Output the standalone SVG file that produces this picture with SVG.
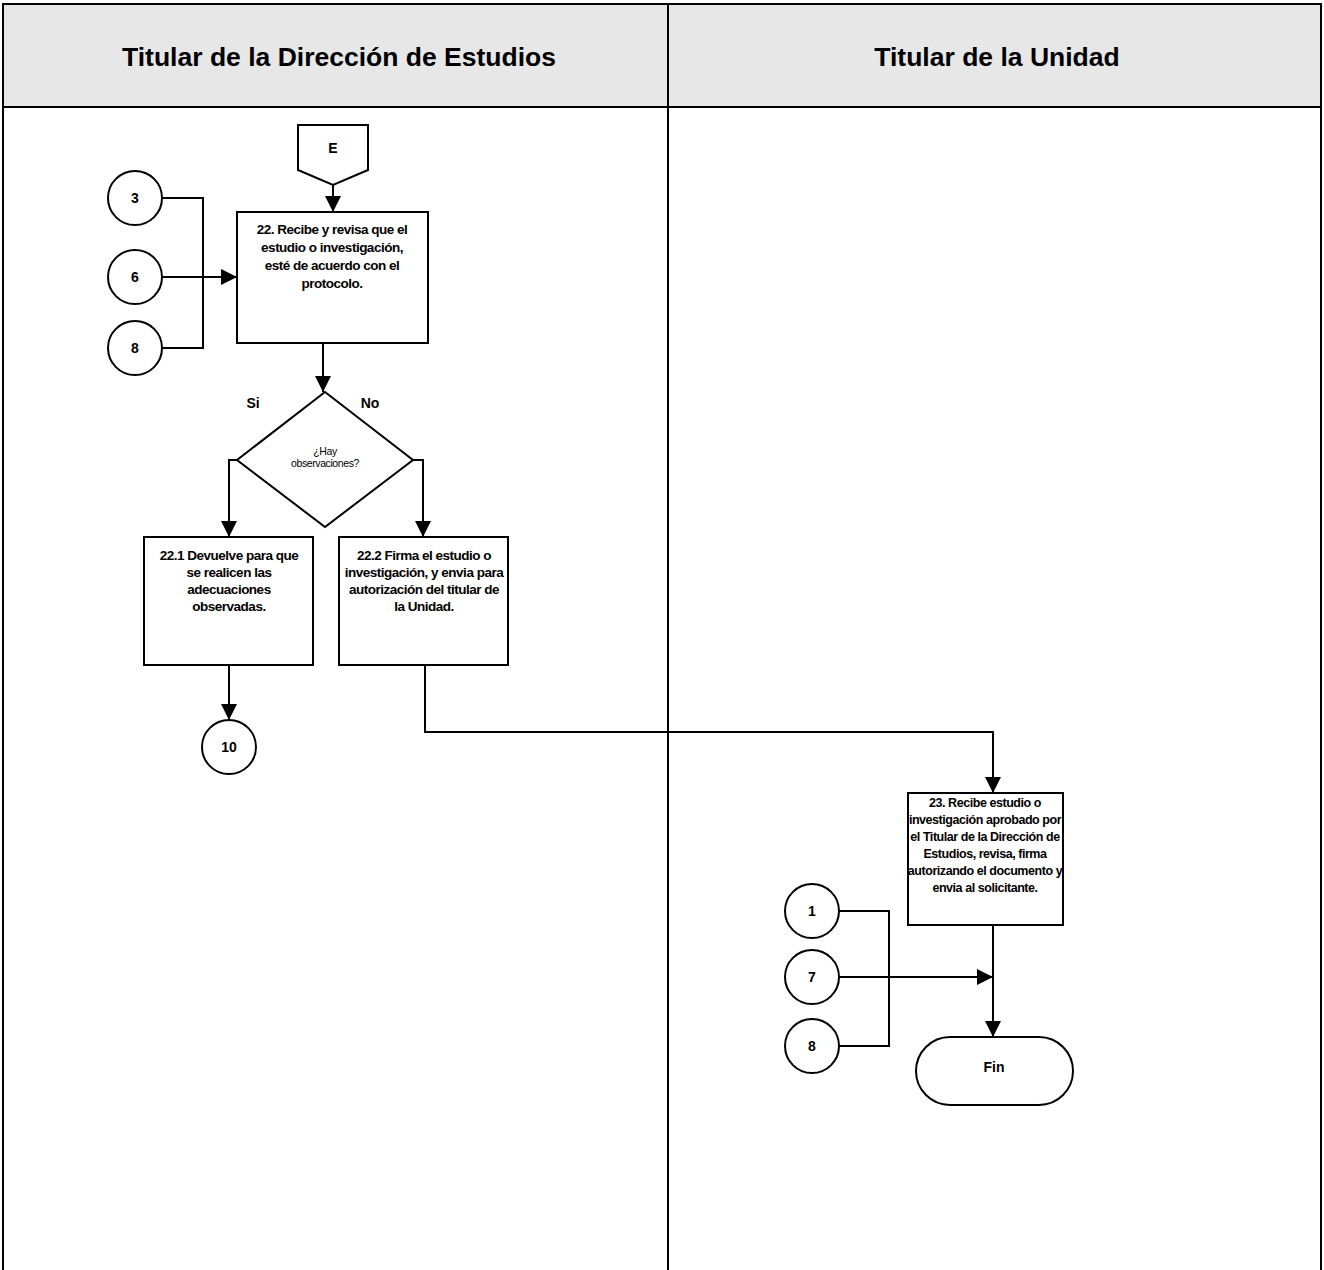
<svg xmlns="http://www.w3.org/2000/svg" width="1324" height="1270" viewBox="0 0 1324 1270">
<style>
.ln{fill:none;stroke:#000;stroke-width:2}
.sh{fill:#fff;stroke:#000;stroke-width:2}
.t{font-family:"Liberation Sans",Arial,sans-serif;font-weight:bold;font-size:13.5px;letter-spacing:-0.5px;text-anchor:middle;fill:#000}
.t2{font-family:"Liberation Sans",Arial,sans-serif;font-weight:bold;font-size:12.5px;letter-spacing:-0.45px;text-anchor:middle;fill:#000}
.n{font-family:"Liberation Sans",Arial,sans-serif;font-weight:bold;font-size:14px;text-anchor:middle;fill:#000}
.h{font-family:"Liberation Sans",Arial,sans-serif;font-weight:bold;font-size:26.5px;text-anchor:middle;fill:#000}
.s{font-family:"Liberation Sans",Arial,sans-serif;font-size:10.5px;letter-spacing:-0.4px;text-anchor:middle;fill:#000}
</style>
<defs>
<marker id="ar" markerUnits="userSpaceOnUse" markerWidth="16" markerHeight="16" viewBox="0 0 16 16" refX="16" refY="8" orient="auto">
<path d="M0 0 L16 8 L0 16 Z" fill="#000"/>
</marker>
</defs>
<rect width="1324" height="1270" fill="#fff"/>
<g id="lanes">
<rect x="3" y="4" width="1318" height="103" fill="#e7e7e7"/>
<rect x="3" y="4" width="1318" height="1268" fill="none" stroke="#000" stroke-width="2"/>
<line x1="3" y1="107" x2="1321" y2="107" stroke="#000" stroke-width="2"/>
<line x1="668" y1="4" x2="668" y2="1270" stroke="#000" stroke-width="2"/>
<text class="h" x="339" y="66">Titular de la Dirección de Estudios</text>
<text class="h" x="997" y="66">Titular de la Unidad</text>
</g>
<g id="connectors">
<path class="ln" d="M333 185 V212" marker-end="url(#ar)"/>
<path class="ln" d="M162 198 H203 V348 H162"/>
<path class="ln" d="M162 277 H237" marker-end="url(#ar)"/>
<path class="ln" d="M323 343 V392" marker-end="url(#ar)"/>
<path class="ln" d="M237 460 H229 V537" marker-end="url(#ar)"/>
<path class="ln" d="M413 460 H423 V537" marker-end="url(#ar)"/>
<path class="ln" d="M229 665 V720" marker-end="url(#ar)"/>
<path class="ln" d="M425 665 V732 H993 V793" marker-end="url(#ar)"/>
<path class="ln" d="M993 925 V1037" marker-end="url(#ar)"/>
<path class="ln" d="M839 911 H889 V1046 H839"/>
<path class="ln" d="M839 977 H993" marker-end="url(#ar)"/>
</g>
<g id="nE">
<path class="sh" d="M298 125 H368 V170 L333 185 L298 170 Z"/>
<text class="n" x="333" y="153">E</text>
</g>
<g id="c3"><circle class="sh" cx="135" cy="198" r="27"/><text class="n" x="135" y="203">3</text></g>
<g id="c6"><circle class="sh" cx="135" cy="277" r="27"/><text class="n" x="135" y="282">6</text></g>
<g id="c8a"><circle class="sh" cx="135" cy="348" r="27"/><text class="n" x="135" y="353">8</text></g>
<g id="n22">
<rect class="sh" x="237" y="212" width="191" height="131"/>
<text class="t" x="332" y="234">22. Recibe y revisa que el</text>
<text class="t" x="332" y="252">estudio o investigación,</text>
<text class="t" x="332" y="270">esté de acuerdo con el</text>
<text class="t" x="332" y="288">protocolo.</text>
</g>
<g id="dec">
<path class="sh" d="M325 392 L413 460 L325 527 L237 460 Z"/>
<text class="s" x="325" y="455">¿Hay</text>
<text class="s" x="325" y="467">observaciones?</text>
<text class="n" x="253" y="408">Si</text>
<text class="n" x="370" y="408">No</text>
</g>
<g id="n221">
<rect class="sh" x="144" y="537" width="169" height="128"/>
<text class="t" x="229" y="560">22.1 Devuelve para que</text>
<text class="t" x="229" y="577">se realicen las</text>
<text class="t" x="229" y="594">adecuaciones</text>
<text class="t" x="229" y="611">observadas.</text>
</g>
<g id="n222">
<rect class="sh" x="339" y="537" width="169" height="128"/>
<text class="t" x="424" y="560">22.2 Firma el estudio o</text>
<text class="t" x="424" y="577">investigación, y envia para</text>
<text class="t" x="424" y="594">autorización del titular de</text>
<text class="t" x="424" y="611">la Unidad.</text>
</g>
<g id="c10"><circle class="sh" cx="229" cy="747" r="27"/><text class="n" x="229" y="752">10</text></g>
<g id="n23">
<rect class="sh" x="908" y="793" width="155" height="132"/>
<text class="t2" x="985" y="807">23. Recibe estudio o</text>
<text class="t2" x="985" y="824">investigación aprobado por</text>
<text class="t2" x="985" y="841">el Titular de la Dirección de</text>
<text class="t2" x="985" y="858">Estudios, revisa, firma</text>
<text class="t2" x="985" y="875">autorizando el documento y</text>
<text class="t2" x="985" y="892">envia al solicitante.</text>
</g>
<g id="c1"><circle class="sh" cx="812" cy="911" r="27"/><text class="n" x="812" y="916">1</text></g>
<g id="c7"><circle class="sh" cx="812" cy="977" r="27"/><text class="n" x="812" y="982">7</text></g>
<g id="c8b"><circle class="sh" cx="812" cy="1046" r="27"/><text class="n" x="812" y="1051">8</text></g>
<g id="fin">
<rect class="sh" x="916" y="1037" width="157" height="68" rx="34"/>
<text class="n" x="994" y="1072">Fin</text>
</g>
</svg>
